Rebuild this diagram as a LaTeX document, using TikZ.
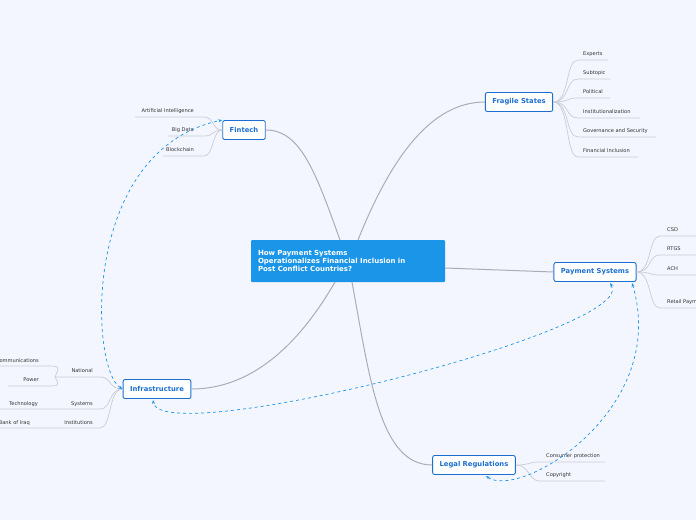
\documentclass[tikz,border=0pt]{standalone}
\usepackage{fontspec}
\setmainfont{DejaVu Sans}
\usetikzlibrary{arrows.meta}
\definecolor{bg}{HTML}{F3F6FE}
\definecolor{mblue}{HTML}{1A95E8}
\definecolor{tblue}{HTML}{1C6FD0}
\definecolor{lgray}{HTML}{C9CDD6}
\definecolor{mgray}{HTML}{A9ADB5}
\tikzset{
 topic/.style={draw=tblue,fill=white,rounded corners=2pt,line width=0.9pt,text=tblue,font=\fontsize{6.8}{7.5}\selectfont\bfseries,minimum height=19pt,inner xsep=7pt},
 leaf/.style={font=\fontsize{5.1}{5.5}\selectfont,text=black!80,inner sep=1pt},
 main/.style={draw=mgray,line width=1pt},
 sub/.style={draw=lgray,line width=0.7pt},
 rel/.style={draw=mblue,dashed,line width=0.7pt,{Stealth[length=4pt]}-{Stealth[length=4pt]}},
}
\begin{document}
\begin{tikzpicture}[x=1pt,y=-1pt]
\fill[bg] (0,0) rectangle (696,520);
\useasboundingbox (0,0) rectangle (696,520);
\node[fill=mblue,text=white,font=\fontsize{7}{7.8}\selectfont\bfseries,align=left,minimum width=194pt,minimum height=42pt,text width=180pt,rounded corners=1pt] (c) at (348,261) {How Payment Systems\\Operationalizes Financial Inclusion in\\Post Conflict Countries?};
\node[topic] (fin) at (244,130) {Fintech};
\node[topic] (fra) at (519,102) {Fragile States};
\node[topic] (pay) at (595,272) {Payment Systems};
\node[topic] (leg) at (474,465) {Legal Regulations};
\node[topic] (inf) at (157,389) {Infrastructure};
% main branches
\draw[main] (340,240) .. controls (315,170) and (300,130) .. (fin.east);
\draw[main] (358,240) .. controls (390,160) and (430,102) .. (fra.west);
\draw[main] (c.east |- 0,268) .. controls (500,270) .. (pay.west);
\draw[main] (352,282) .. controls (370,380) and (380,465) .. (leg.west);
\draw[main] (335,282) .. controls (290,360) and (240,389) .. (inf.east);
% fragile leaves
\foreach \t/\y/\w in {Experts/54/608,Subtopic/73/610,Political/92/610,Institutionalization/112/640,Governance and Security/131/656,Financial Inclusion/151/638}{
 \node[leaf,anchor=west] (f\y) at (582,\y) {\t};
 \draw[sub] (fra.east) .. controls (570,102) and (565,\y+6) .. (578,\y+6) -- (\w,\y+6);
}
% payment leaves
\foreach \t/\y in {CSD/230,RTGS/249,ACH/269,Retail Payments/302}{
 \node[leaf,anchor=west] (p\y) at (666,\y) {\t};
 \draw[sub] (pay.east) .. controls (652,272) and (648,\y+6) .. (660,\y+6) -- (696,\y+6);
}
% fintech leaves
\foreach \t/\y/\s in {Artificial Intelligence/111/135,Big Data/130/168,Blockchain/150/163}{
 \node[leaf,anchor=east] (t\y) at (195,\y) {\t};
 \draw[sub] (fin.west) .. controls (212,130) and (214,\y+6) .. (204,\y+6) -- (\s,\y+6);
}
% legal leaves
\foreach \t/\y in {Consumer protection/456,Copyright/475}{
 \node[leaf,anchor=west] (l\y) at (545,\y) {\t};
 \draw[sub] (leg.east) .. controls (530,465) and (528,\y+6) .. (540,\y+6) -- (605,\y+6);
}
% infrastructure leaves
\node[leaf,anchor=east] (nat) at (94,371) {National};
\node[leaf,anchor=east] (sys) at (94,404) {Systems};
\node[leaf,anchor=east] (ins) at (94,423) {Institutions};
\foreach \y/\s in {377/55,409/0,428/0}{
 \draw[sub] (inf.west) .. controls (108,389) and (112,\y) .. (100,\y) -- (\s,\y);
}
\node[leaf,anchor=east] (com) at (40,361) {Communications};
\node[leaf,anchor=east] (pow) at (40,380) {Power};
\draw[sub] (55,377) .. controls (60,366) .. (45,366) -- (0,366);
\draw[sub] (55,377) .. controls (60,386) .. (45,386) -- (8,386);
\node[leaf,anchor=east] (tec) at (39,404) {Technology};
\node[leaf,anchor=east] (boi) at (31,423) {Bank of Iraq};
% relations
\draw[rel] (inf.west) .. controls (90,370) and (80,150) .. (fin.north west);
\draw[rel] (610,283) .. controls (640,330) and (160,450) .. (153,400);
\draw[rel] (486,476) .. controls (520,500) and (670,410) .. (632,283);
\end{tikzpicture}
\end{document}
